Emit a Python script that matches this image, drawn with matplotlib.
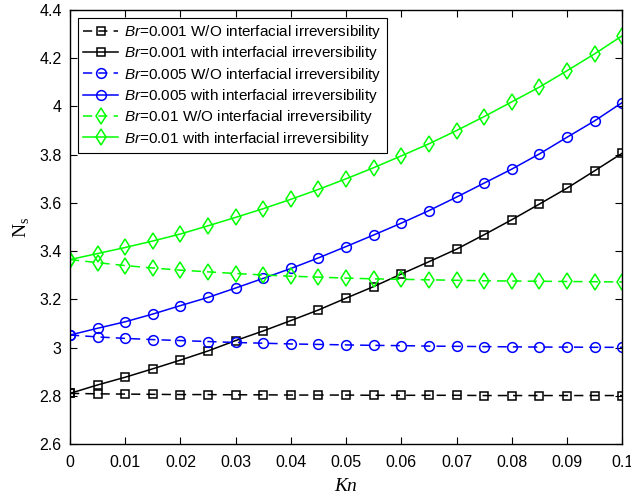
import numpy as np
import matplotlib.pyplot as plt

plt.rcParams['font.family'] = 'Liberation Sans'
plt.rcParams['mathtext.fontset'] = 'custom'
plt.rcParams['mathtext.it'] = 'Liberation Sans:italic'
plt.rcParams['mathtext.rm'] = 'Liberation Sans'

# Knudsen number grid
kn = [0.000, 0.005, 0.010, 0.015, 0.020, 0.025, 0.030, 0.035, 0.040, 0.045, 0.050,
      0.055, 0.060, 0.065, 0.070, 0.075, 0.080, 0.085, 0.090, 0.095, 0.100]

# Br = 0.001
br001_wo = [2.810, 2.808, 2.807, 2.806, 2.805, 2.805, 2.804, 2.804, 2.803, 2.803, 2.803,
            2.802, 2.802, 2.802, 2.802, 2.801, 2.801, 2.801, 2.801, 2.801, 2.801]
br001_with = [2.810, 2.845, 2.877, 2.912, 2.948, 2.986, 3.029, 3.069, 3.112, 3.156, 3.205,
              3.253, 3.305, 3.356, 3.408, 3.468, 3.530, 3.595, 3.661, 3.733, 3.806]

# Br = 0.005
br005_wo = [3.052, 3.044, 3.038, 3.033, 3.029, 3.025, 3.021, 3.018, 3.015, 3.013, 3.011,
            3.009, 3.008, 3.006, 3.005, 3.004, 3.003, 3.002, 3.002, 3.001, 3.001]
br005_with = [3.052, 3.080, 3.107, 3.139, 3.174, 3.208, 3.247, 3.287, 3.328, 3.372, 3.419,
              3.467, 3.516, 3.568, 3.624, 3.682, 3.740, 3.803, 3.872, 3.940, 4.016]

# Br = 0.01
br01_wo = [3.365, 3.352, 3.340, 3.330, 3.321, 3.314, 3.307, 3.301, 3.296, 3.292, 3.288,
           3.285, 3.283, 3.281, 3.279, 3.277, 3.276, 3.275, 3.274, 3.273, 3.272]
br01_with = [3.365, 3.390, 3.415, 3.442, 3.471, 3.505, 3.540, 3.576, 3.615, 3.656, 3.700,
             3.746, 3.795, 3.845, 3.900, 3.958, 4.019, 4.080, 4.148, 4.218, 4.293]

series = [
    (br001_wo, 'k', 's', '--', 6, '$\\mathit{Br}$=0.001 W/O interfacial irreversibility'),
    (br001_with, 'k', 's', '-', 6, '$\\mathit{Br}$=0.001 with interfacial irreversibility'),
    (br005_wo, 'b', 'o', '--', 7, '$\\mathit{Br}$=0.005 W/O interfacial irreversibility'),
    (br005_with, 'b', 'o', '-', 7, '$\\mathit{Br}$=0.005 with interfacial irreversibility'),
    (br01_wo, '#00ff00', 'd', '--', 8, '$\\mathit{Br}$=0.01 W/O interfacial irreversibility'),
    (br01_with, '#00ff00', 'd', '-', 8, '$\\mathit{Br}$=0.01 with interfacial irreversibility'),
]

fig = plt.figure(figsize=(6.31, 5.0), dpi=100)
ax = fig.add_axes([0.111, 0.112, 0.875, 0.868])

for y, c, m, ls, ms, lab in series:
    kw = dict(dashes=(6, 4)) if ls == '--' else {}
    ax.plot(kn, y, color=c, marker=m, linestyle=ls, lw=1.1, ms=ms,
            markerfacecolor='none', markeredgewidth=1.1, label=lab, **kw)

ax.set_xlim(0, 0.1)
ax.set_ylim(2.6, 4.4)
ax.set_xticks(np.arange(0, 0.1001, 0.01))
ax.set_xticklabels(['0', '0.01', '0.02', '0.03', '0.04', '0.05', '0.06',
                    '0.07', '0.08', '0.09', '0.1'])
ax.set_yticks(np.arange(2.6, 4.401, 0.2))
ax.set_yticklabels(['2.6', '2.8', '3', '3.2', '3.4', '3.6', '3.8', '4', '4.2', '4.4'])
ax.tick_params(direction='in', top=True, right=True, labelsize=11.5, length=5, width=0.8)
ax.tick_params(axis='x', pad=8)
ax.tick_params(axis='y', pad=6)
for s in ax.spines.values():
    s.set_linewidth(1.0)

ax.set_xlabel('Kn', family='Liberation Serif', style='italic', fontsize=14, labelpad=6)
ax.set_ylabel('N$_\\mathregular{s}$', family='Liberation Serif', fontsize=14, labelpad=6)

leg = ax.legend(loc='upper left', fontsize=11, fancybox=False, edgecolor='k',
                framealpha=1, borderaxespad=0.5, handlelength=2.3, labelspacing=0.22,
                borderpad=0.35, handletextpad=0.4)
leg.get_frame().set_linewidth(0.8)

fig.savefig('out.png', dpi=100)
